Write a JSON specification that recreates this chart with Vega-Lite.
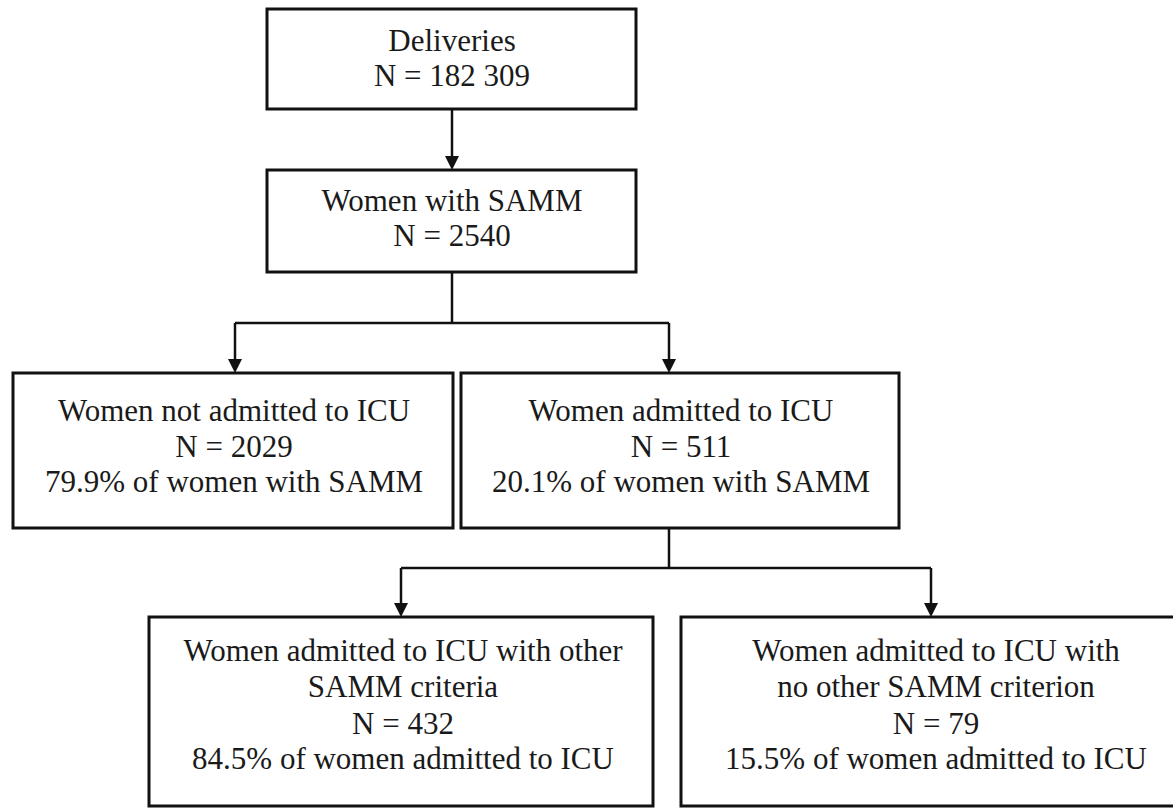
{
  "$schema": "https://vega.github.io/schema/vega-lite/v6.json",
  "width": 1173,
  "height": 808,
  "autosize": {"type": "fit", "contains": "padding"},
  "padding": 0,
  "background": "white",
  "config": {"view": {"stroke": null}},
  "datasets": {
    "boxes": [
      {"x": 267, "x2": 636, "y": 9, "y2": 109},
      {"x": 267, "x2": 636, "y": 170, "y2": 272},
      {"x": 13, "x2": 453, "y": 373, "y2": 528},
      {"x": 461, "x2": 899, "y": 373, "y2": 528},
      {"x": 149, "x2": 653, "y": 617, "y2": 806},
      {"x": 681, "x2": 1190, "y": 617, "y2": 806}
    ],
    "links": [
      {"x": 452, "x2": 452, "y": 109, "y2": 160},
      {"x": 452, "x2": 452, "y": 272, "y2": 323},
      {"x": 235, "x2": 669, "y": 323, "y2": 323},
      {"x": 235, "x2": 235, "y": 323, "y2": 363},
      {"x": 669, "x2": 669, "y": 323, "y2": 363},
      {"x": 669, "x2": 669, "y": 528, "y2": 568},
      {"x": 401, "x2": 931, "y": 568, "y2": 568},
      {"x": 401, "x2": 401, "y": 568, "y2": 607},
      {"x": 931, "x2": 931, "y": 568, "y2": 607}
    ],
    "heads": [
      {"x": 452, "y": 170},
      {"x": 235, "y": 373},
      {"x": 669, "y": 373},
      {"x": 401, "y": 617},
      {"x": 931, "y": 617}
    ],
    "labels": [
      {"x": 452, "y": 42, "t": "Deliveries"},
      {"x": 452, "y": 77, "t": "N = 182 309"},
      {"x": 452, "y": 202, "t": "Women  with SAMM"},
      {"x": 452, "y": 237, "t": "N = 2540"},
      {"x": 234, "y": 412, "t": "Women not admitted to ICU"},
      {"x": 234, "y": 448, "t": "N = 2029"},
      {"x": 234, "y": 483, "t": "79.9% of women with SAMM"},
      {"x": 681, "y": 412, "t": "Women admitted to ICU"},
      {"x": 681, "y": 448, "t": "N = 511"},
      {"x": 681, "y": 483, "t": "20.1% of women with SAMM"},
      {"x": 403, "y": 652, "t": "Women admitted to ICU with other"},
      {"x": 403, "y": 688, "t": "SAMM criteria"},
      {"x": 403, "y": 725, "t": "N = 432"},
      {"x": 403, "y": 760, "t": "84.5% of women admitted to ICU"},
      {"x": 936, "y": 652, "t": "Women admitted to ICU with"},
      {"x": 936, "y": 688, "t": "no other SAMM criterion"},
      {"x": 936, "y": 725, "t": "N = 79"},
      {"x": 936, "y": 760, "t": "15.5% of women admitted to ICU"}
    ]
  },
  "layer": [
    {
      "data": {"name": "boxes"},
      "mark": {"type": "rect", "fill": "white", "stroke": "#111", "strokeWidth": 3, "clip": true},
      "encoding": {
        "x": {"field": "x", "type": "quantitative", "scale": {"domain": [0, 1173], "nice": false, "zero": false}, "axis": null},
        "x2": {"field": "x2"},
        "y": {"field": "y", "type": "quantitative", "scale": {"domain": [0, 808], "nice": false, "zero": false, "reverse": true}, "axis": null},
        "y2": {"field": "y2"}
      }
    },
    {
      "data": {"name": "links"},
      "mark": {"type": "rule", "stroke": "#111", "strokeWidth": 2.5},
      "encoding": {
        "x": {"field": "x", "type": "quantitative"},
        "x2": {"field": "x2"},
        "y": {"field": "y", "type": "quantitative"},
        "y2": {"field": "y2"}
      }
    },
    {
      "data": {"name": "heads"},
      "mark": {"type": "point", "shape": "M-1,-2L1,-2L0,0Z", "size": 196, "filled": true, "color": "#111", "opacity": 1},
      "encoding": {
        "x": {"field": "x", "type": "quantitative"},
        "y": {"field": "y", "type": "quantitative"}
      }
    },
    {
      "data": {"name": "labels"},
      "mark": {"type": "text", "font": "Liberation Serif", "fontSize": 31, "color": "#1a1a1a", "align": "center", "baseline": "middle"},
      "encoding": {
        "x": {"field": "x", "type": "quantitative"},
        "y": {"field": "y", "type": "quantitative"},
        "text": {"field": "t", "type": "nominal"}
      }
    }
  ]
}
